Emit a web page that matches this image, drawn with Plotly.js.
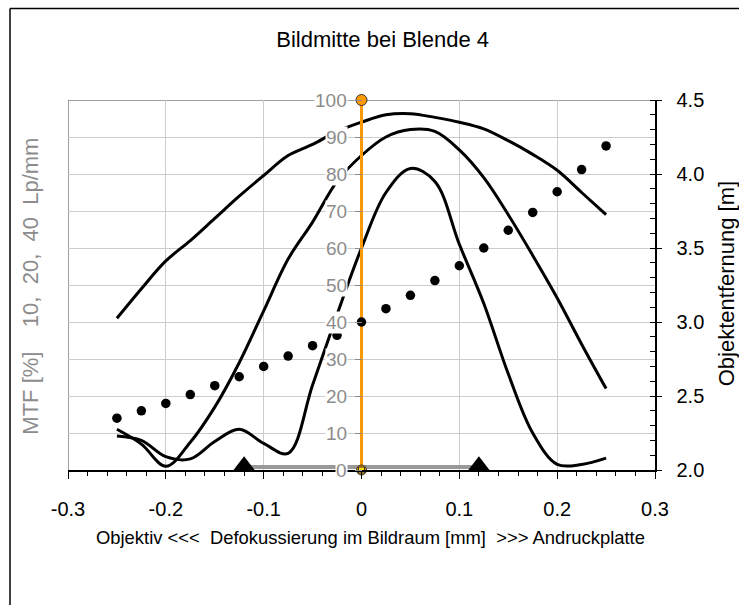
<!DOCTYPE html>
<html><head><meta charset="utf-8">
<script src="https://cdn.plot.ly/plotly-3.0.1.min.js"></script>
<style>body{margin:0;background:#fff}#chart{width:739px;height:605px}</style>
</head><body><div id="chart"></div>
<script>
// Defocus positions [mm]
const defocus = [-0.25,-0.225,-0.2,-0.175,-0.15,-0.125,-0.1,-0.075,-0.05,-0.025,0,0.025,0.05,0.075,0.1,0.125,0.15,0.175,0.2,0.225,0.25];
// MTF [%] at 10, 20, 40 Lp/mm
const mtf10 = [41,49,56.5,62,68,74,79.6,85,88,91.5,94,96,96.3,95.3,94,92.2,89,85.3,81,75,69];
const mtf20 = [11,7,1,7.5,17,29,43,57,67,78,85,90,92,91.5,86.5,79,69,58,46.5,34,22];
const mtf40 = [9.2,8,3.6,3,7.7,11,7.2,4.5,23,42,60,75,81.5,78,61,45,26,10,1.5,1.5,3.2];
// Object distance [m]
const distance = [2.35,2.40,2.45,2.51,2.57,2.63,2.70,2.77,2.84,2.91,3.00,3.09,3.18,3.28,3.38,3.50,3.62,3.74,3.88,4.03,4.19];
// focus line and tolerance range
const focusX = [0,0];
const focusY = [0,100];
const toleranceX = [-0.12,0.12];
const toleranceY = [0.8,0.8];
// ticks
const xTickVals = [-0.3,-0.2,-0.1,0,0.1,0.2,0.3];
const xTickText = ['-0.3','-0.2','-0.1','0','0.1','0.2','0.3'];
const mtfTicks = [0,10,20,30,40,50,60,70,80,90,100];
const distTicks = [2.0,2.5,3.0,3.5,4.0,4.5];

const FONT = 'Liberation Sans, Arial, sans-serif';
const GRAY = '#8c8c8c';

const curve = (y) => ({x: defocus, y: y, mode: 'lines', line: {color: '#000', width: 3, shape: 'spline', smoothing: 1}, hoverinfo: 'skip', showlegend: false});

const traces = [
  {x: toleranceX, y: toleranceY, mode: 'lines', line: {color: '#999999', width: 4}, showlegend: false, cliponaxis: false},
  curve(mtf10), curve(mtf20), curve(mtf40),
  {x: focusX, y: focusY, mode: 'lines', line: {color: '#ff9900', width: 3}, showlegend: false, cliponaxis: false},
  {x: [focusX[1]], y: [focusY[1]], mode: 'markers', marker: {symbol: 'circle', size: 11, color: '#ff9900', line: {color: '#333', width: 1}}, showlegend: false, cliponaxis: false},
  {x: [focusX[0]], y: [focusY[0]], mode: 'markers', marker: {symbol: 'circle', size: 10, color: '#ff9900', line: {color: '#333', width: 1}}, showlegend: false, cliponaxis: false},
  {x: [focusX[0]], y: [focusY[0]], mode: 'markers', marker: {symbol: 'square', size: 6, color: '#ffdd00', line: {color: '#333', width: 1}}, showlegend: false, cliponaxis: false},
  {x: toleranceX, y: [0.9,0.9], mode: 'markers', marker: {symbol: 'triangle-up', size: 21, color: '#000'}, showlegend: false, cliponaxis: false},
  {x: defocus, y: distance, yaxis: 'y2', mode: 'markers', marker: {symbol: 'circle', size: 9.5, color: '#000'}, showlegend: false}
];

const annotations = mtfTicks.map(v => ({
  x: 0, y: v, xref: 'x', yref: 'y', text: String(v), showarrow: false,
  xanchor: 'right', yanchor: 'middle', xshift: -14,
  font: {family: FONT, size: 19, color: GRAY}, bgcolor: '#ffffff', borderpad: 0
}));
annotations.push(
  {xref: 'paper', yref: 'paper', x: 0.5145, y: -0.1835, text: 'Objektiv <<<  Defokussierung im Bildraum [mm]  >>> Andruckplatte', showarrow: false, xanchor: 'center', yanchor: 'middle', font: {family: FONT, size: 18.4, color: '#000'}},
  {xref: 'paper', yref: 'paper', x: -0.064, y: 0.4966, text: 'MTF [%]    10,  20,  40  Lp/mm', textangle: -90, showarrow: false, xanchor: 'center', yanchor: 'middle', font: {family: FONT, size: 22, color: GRAY}},
  {xref: 'paper', yref: 'paper', x: 1.121, y: 0.502, text: 'Objektentfernung [m]', textangle: -90, showarrow: false, xanchor: 'center', yanchor: 'middle', font: {family: FONT, size: 22, color: '#000'}}
);

const layout = {
  width: 739, height: 605,
  margin: {l: 68, r: 84, t: 100, b: 135, pad: 0},
  paper_bgcolor: '#fff', plot_bgcolor: '#fff',
  font: {family: FONT, color: '#000'},
  title: {text: 'Bildmitte bei Blende 4', font: {family: FONT, size: 22, color: '#000'}, xref: 'paper', x: 0.536, xanchor: 'center', yref: 'container', y: 0.9355, yanchor: 'middle'},
  showlegend: false,
  xaxis: {
    range: [-0.3, 0.3], tickmode: 'array', tickvals: xTickVals, ticktext: xTickText,
    ticks: 'outside', ticklen: 7, tickwidth: 1, tickcolor: '#000',
    minor: {tickmode: 'linear', tick0: -0.3, dtick: 0.02, ticks: 'outside', ticklen: 4, tickcolor: '#000', showgrid: false},
    showline: true, linecolor: '#000', linewidth: 1.5,
    showgrid: true, gridcolor: '#cccccc', gridwidth: 1, zeroline: false,
    tickfont: {family: FONT, size: 20, color: '#000'}, ticklabelstandoff: 13
  },
  yaxis: {
    range: [0, 100], tickmode: 'array', tickvals: mtfTicks,
    anchor: 'free', position: 0.5, side: 'left',
    ticks: 'outside', ticklen: 7, tickcolor: GRAY, showticklabels: false,
    showgrid: true, gridcolor: '#cccccc', gridwidth: 1, showline: false, zeroline: false
  },
  yaxis2: {
    range: [2, 4.5], overlaying: 'y', side: 'right', anchor: 'x',
    tickmode: 'array', tickvals: distTicks, tickformat: '.1f',
    ticks: 'outside', ticklen: 5, tickcolor: '#000',
    minor: {tickmode: 'linear', tick0: 2, dtick: 0.1, ticks: 'inside', ticklen: 5, tickcolor: '#000', showgrid: false},
    showline: true, linecolor: '#000', linewidth: 1.5,
    showgrid: false, zeroline: false,
    tickfont: {family: FONT, size: 20, color: '#000'}, ticklabelstandoff: 11
  },
  yaxis3: {
    range: [2, 4.5], overlaying: 'y', side: 'right', anchor: 'x',
    tickmode: 'array', tickvals: distTicks, ticks: 'inside', ticklen: 5, tickcolor: '#000',
    showticklabels: false, showgrid: false, showline: false, zeroline: false
  },
  shapes: [
    {type: 'line', xref: 'x', yref: 'y', x0: -0.3, x1: 0.3, y0: 100, y1: 100, line: {color: '#808080', width: 1.5}, layer: 'below'},
    {type: 'line', xref: 'x', yref: 'y', x0: -0.3, x1: -0.3, y0: 0, y1: 100, line: {color: '#808080', width: 1.5}, layer: 'below'},
    {type: 'line', xref: 'paper', yref: 'paper', x0: -0.0988, x1: -0.0988, y0: -0.4, y1: 1.247, line: {color: '#000', width: 1.5}},
    {type: 'line', xref: 'paper', yref: 'paper', x0: -0.0988, x1: 1.2, y0: 1.247, y1: 1.247, line: {color: '#000', width: 1.5}}
  ],
  annotations: annotations
};

Plotly.newPlot('chart', traces, layout, {staticPlot: true, displayModeBar: false});
</script>
</body></html>
